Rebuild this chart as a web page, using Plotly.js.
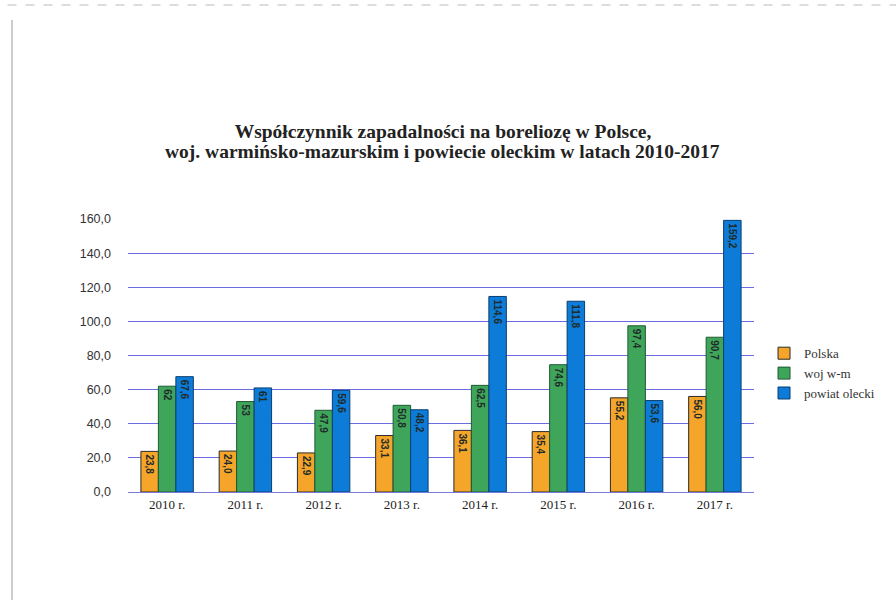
<!DOCTYPE html>
<html><head><meta charset="utf-8">
<script src="https://cdn.plot.ly/plotly-3.0.1.min.js"></script>
<style>html,body{margin:0;padding:0;background:#fff}#c{width:896px;height:602px}</style>
</head><body><div id="c"></div>
<script>
const categories = ["2010 r.","2011 r.","2012 r.","2013 r.","2014 r.","2015 r.","2016 r.","2017 r."];
const polska = [23.8, 24.0, 22.9, 33.1, 36.1, 35.4, 55.2, 56.0];
const wojWm = [62, 53, 47.9, 50.8, 62.5, 74.6, 97.4, 90.7];
const powiatOlecki = [67.6, 61, 59.6, 48.2, 114.6, 111.8, 53.6, 159.2];
const polskaLabels = ["23,8","24,0","22,9","33,1","36,1","35,4","55,2","56,0"];
const wojLabels = ["62","53","47,9","50,8","62,5","74,6","97,4","90,7"];
const powiatLabels = ["67,6","61","59,6","48,2","114,6","111,8","53,6","159,2"];
const yTicks = [0,20,40,60,80,100,120,140,160];
const yTickText = ["0,0","20,0","40,0","60,0","80,0","100,0","120,0","140,0","160,0"];
const titleLine1 = "Współczynnik zapadalności na boreliozę w Polsce,";
const titleLine2 = "woj. warmińsko-mazurskim i powiecie oleckim w latach 2010-2017";

function bar(name, y, txt, color, line) {
  return {type:'bar', name, x:categories, y, text:txt, textposition:'inside',
    insidetextanchor:'end', textangle:90, constraintext:'none',
    textfont:{family:'Liberation Sans, Arial, sans-serif', size:10, color:'#1f2b2b', weight:'bold'},
    marker:{color, line:{color:line, width:1}}, hoverinfo:'x+y'};
}
const data = [
  bar('Polska', polska, polskaLabels, '#f4a52a', '#2a2a2a'),
  bar('woj w-m', wojWm, wojLabels, '#3fa55a', '#1e5a30'),
  bar('powiat olecki', powiatOlecki, powiatLabels, '#0d7bd8', '#0a3f70')
];
const serif = 'Liberation Serif, Times New Roman, serif';
const layout = {
  width:896, height:602,
  margin:{l:128, r:142, t:219, b:110},
  paper_bgcolor:'#fff', plot_bgcolor:'#fff',
  barmode:'group', bargap:0.33, bargroupgap:0,
  title:{text:'<b>'+titleLine1+'</b>', x:443/896, xanchor:'center', y:1-131/602, yanchor:'middle',
    font:{family:serif, size:19.5, color:'#222'}},
  annotations:[
    {text:'<b>'+titleLine2+'</b>', xref:'paper', yref:'paper', x:(442-128)/626, xanchor:'center',
     y:(492-151)/273, yanchor:'middle', showarrow:false, font:{family:serif, size:19.5, color:'#222'}}
  ],
  xaxis:{type:'category', showgrid:false, showline:true, linecolor:'#7a7ad8', linewidth:1,
    ticks:'', tickfont:{family:serif, size:13, color:'#222'}},
  yaxis:{range:[0,160], tickvals:yTicks, ticktext:yTickText, showgrid:true,
    gridcolor:'#6c6ce2', gridwidth:1, zeroline:false, showline:false, ticks:'',
    ticklabelstandoff:16,
    tickfont:{family:'Liberation Sans, Arial, sans-serif', size:12.5, color:'#333'}},
  legend:{x:1.016, xanchor:'left', y:0.435, yanchor:'middle', tracegroupgap:0,
    font:{family:serif, size:13, color:'#333'},
    itemwidth:30, bgcolor:'rgba(0,0,0,0)'},
  shapes:[
    {type:'line', xref:'paper', yref:'paper', x0:-0.25, x1:1.3, y0:(492-5)/273, y1:(492-5)/273, line:{color:'#bbb', width:1, dash:'dash'}},
    {type:'line', xref:'paper', yref:'paper', x0:(12-128)/626, x1:(12-128)/626, y0:(492-20)/273, y1:(492-600)/273, line:{color:'#999', width:1}}
  ],
  showlegend:true
};
Plotly.newPlot('c', data, layout, {displayModeBar:false, staticPlot:true});
</script></body></html>
